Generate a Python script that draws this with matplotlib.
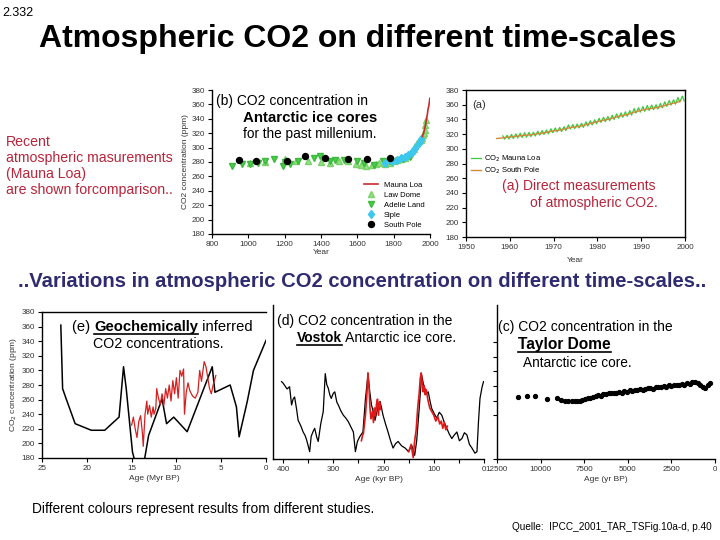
import numpy as np
import matplotlib
matplotlib.use('Agg')
import matplotlib.pyplot as plt
from matplotlib.lines import Line2D

plt.rcParams['font.family'] = ['Liberation Sans', 'DejaVu Sans']

# ===================== dados =====================
# (b) ice cores, last millennium
sp_year = [947, 1044, 1212, 1313, 1423, 1551, 1655, 1780]
sp_co2 = [283, 282, 281, 288, 285, 284, 284, 286]

adelie_year = [910, 965, 1011, 1051, 1093, 1144, 1190, 1203, 1227, 1276, 1359, 1395,
               1450, 1478, 1524, 1597, 1634, 1689, 1744, 1780, 1853, 1890]
adelie_co2 = [275, 277, 277, 278, 281, 284, 274, 280, 277, 282, 286, 289,
              281, 283, 283, 282, 279, 276, 282, 282, 284, 287]

law_year = [1008, 1090, 1200, 1260, 1330, 1400, 1450, 1500, 1550, 1590, 1620, 1650,
            1680, 1700, 1720, 1750, 1780, 1800, 1810, 1820, 1830, 1840, 1850, 1860,
            1870, 1880, 1890, 1900, 1910, 1920, 1930, 1940, 1950, 1955, 1960, 1965,
            1970, 1975, 1980]
law_co2 = [279, 280, 284, 281, 282, 280, 278, 282, 281, 277, 276, 275,
           276, 277, 278, 277, 279, 282, 283, 283, 284, 284, 285, 286,
           288, 290, 292, 295, 298, 302, 306, 309, 311, 313, 317, 320,
           324, 331, 338]

siple_year = [1750, 1790, 1820, 1840, 1860, 1880, 1900, 1920, 1940, 1953]
siple_co2 = [279, 281, 283, 285, 287, 290, 294, 300, 306, 312]

# (a) direct measurements
mlo_year = np.arange(1958, 2000)
mlo_may = [317.6, 318.5, 319.6, 320.4, 321.2, 322.0, 322.3, 322.6, 324.0, 324.8, 325.6, 327.3,
           328.3, 329.0, 330.1, 332.5, 333.0, 333.8, 334.8, 336.7, 338.2, 339.5, 341.5, 343.0,
           344.0, 345.8, 347.5, 348.9, 350.4, 352.0, 354.7, 355.9, 357.4, 359.0, 359.5, 360.0,
           361.8, 363.9, 365.7, 366.7, 369.9, 371.6]
mlo_oct = [313.0, 313.3, 313.9, 314.7, 315.4, 315.8, 316.6, 317.3, 318.6, 319.6, 320.3, 321.9,
           323.0, 323.5, 324.8, 327.0, 327.4, 328.3, 329.1, 330.9, 332.5, 334.0, 335.9, 336.9,
           338.2, 339.9, 341.4, 342.9, 344.2, 345.9, 348.5, 349.9, 351.0, 352.2, 353.2, 354.1,
           355.8, 357.7, 359.5, 360.7, 363.6, 365.2]
mlo_mean = [315.3, 316.0, 316.9, 317.6, 318.5, 319.0, 319.6, 320.0, 321.4, 322.2, 323.0, 324.6,
            325.7, 326.3, 327.5, 329.7, 330.2, 331.1, 332.0, 333.8, 335.4, 336.8, 338.7, 339.9,
            341.1, 342.8, 344.4, 345.9, 347.2, 348.9, 351.5, 352.9, 354.2, 355.6, 356.4, 357.1,
            358.8, 360.8, 362.6, 363.7, 366.7, 368.4]
spo_year = np.arange(1957, 2000)
spo_co2 = [314.0, 314.6, 315.4, 316.0, 316.8, 317.5, 318.1, 318.6, 319.2, 320.2, 321.0, 321.8,
           323.2, 324.3, 325.0, 326.2, 327.9, 328.9, 329.8, 330.7, 332.2, 333.9, 335.2, 337.0,
           338.4, 339.6, 341.1, 342.7, 344.3, 345.5, 346.9, 349.0, 350.9, 352.3, 353.6, 354.7,
           355.5, 356.6, 358.2, 360.0, 361.6, 362.8, 365.3]

# (e) geochemically inferred (Myr BP)
geo_age = [22.9, 22.7, 22.3, 21.3, 19.5, 18.0, 16.4, 15.9, 15.6, 14.9, 14.3, 13.6, 13.1,
           11.6, 11.1, 10.3, 8.8, 6.0, 5.7, 4.0, 3.3, 3.0, 2.1, 1.4, 0.0]
geo_co2 = [362, 275, 261, 227, 218, 218, 236, 305, 275, 188, 160, 175, 211,
           261, 227, 236, 216, 305, 270, 280, 250, 209, 257, 300, 341]
geo_red_age = [15.0, 14.8, 14.6, 14.4, 14.2, 14.0, 13.8, 13.7, 13.5, 13.3, 13.2, 13.0, 12.8,
               12.6, 12.5, 12.3, 12.2, 12.0, 11.8, 11.6, 11.4, 11.2, 11.0, 10.8, 10.6, 10.4,
               10.2, 10.0, 9.8, 9.6, 9.4, 9.2, 9.1, 8.9, 8.7, 8.5, 8.2, 7.9, 7.6, 7.4, 7.2,
               6.9, 6.7, 6.5, 6.3, 6.1, 5.9, 5.6]
geo_red_co2 = [225, 236, 220, 208, 230, 238, 215, 196, 240, 258, 240, 252, 236,
               250, 240, 248, 275, 262, 253, 268, 252, 275, 262, 280, 258, 286,
               268, 290, 262, 300, 292, 302, 240, 270, 283, 272, 265, 262, 270, 300, 285,
               312, 305, 290, 275, 268, 280, 293]

# (d) Vostok (kyr BP)
vostok_age = [403, 400, 397, 392, 387, 383, 380, 377, 373, 370, 365, 360, 356, 353, 350, 347,
              344, 340, 337, 333, 330, 325, 320, 316, 313, 310, 307, 304, 300, 297, 293, 290,
              285, 280, 275, 270, 265, 260, 256, 252, 247, 241, 236, 231, 227, 224, 220, 217,
              212, 207, 204, 201, 196, 191, 186, 181, 176, 171, 164, 157, 150, 144, 138, 134,
              130, 127, 124, 121, 118, 114, 111, 107, 104, 99, 94, 89, 84, 79, 74, 69, 64, 59,
              54, 49, 44, 39, 34, 29, 24, 18, 14, 11, 8, 4, 1]
vostok_co2 = [286, 284, 281, 276, 279, 254, 262, 265, 248, 233, 226, 217, 212, 206, 198, 190,
              211, 218, 222, 210, 204, 228, 245, 297, 282, 277, 268, 263, 270, 272, 258, 254,
              246, 240, 236, 231, 224, 217, 190, 204, 211, 217, 262, 295, 270, 254, 244, 233,
              248, 259, 250, 240, 228, 217, 205, 195, 201, 204, 198, 195, 190, 199, 185, 205,
              240, 268, 295, 284, 277, 270, 272, 258, 249, 242, 236, 244, 240, 230, 222, 214,
              208, 213, 217, 205, 208, 216, 213, 200, 195, 188, 190, 231, 263, 278, 286]
vostok_red_age = [244, 242, 240, 238, 236, 233, 231, 229, 227, 225, 222, 220, 218, 216, 214,
                  212, 210, 208, 206]
vostok_red_co2 = [205, 212, 215, 228, 240, 270, 298, 280, 250, 235, 245, 230, 250, 240, 255,
                  262, 240, 258, 248]
vostok_red2_age = [150, 145, 141, 138, 135, 132, 129, 127, 125, 123, 121, 119, 117, 115, 112,
                   108, 104, 100, 96, 92, 88, 85, 82, 79, 76, 73]
vostok_red2_co2 = [190, 200, 182, 205, 220, 250, 270, 290, 298, 285, 272, 280, 268, 275, 262,
                   250, 245, 240, 232, 238, 228, 232, 222, 230, 220, 225]

# (c) Taylor Dome (yr BP)
taylor_age = [11300, 10800, 10300, 9650, 9050, 8850, 8600, 8450, 8200, 8050, 7900, 7750, 7600,
              7450, 7300, 7150, 7000, 6850, 6700, 6550, 6400, 6250, 6100, 5950, 5800, 5650,
              5500, 5350, 5200, 5050, 4900, 4750, 4600, 4450, 4300, 4150, 4000, 3850, 3700,
              3550, 3400, 3250, 3100, 2950, 2800, 2650, 2500, 2350, 2200, 2050, 1900, 1750,
              1600, 1450, 1300, 1150, 1000, 850, 700, 550, 400, 300]
taylor_co2 = [265, 267, 267, 262, 263, 261, 260, 260, 259, 259, 260, 260, 261,
              262, 263, 264, 265, 266, 268, 267, 269, 269, 270, 270, 271, 271,
              272, 271, 273, 272, 274, 273, 275, 274, 276, 275, 276, 277, 277,
              276, 278, 279, 278, 280, 279, 281, 280, 282, 281, 282, 283, 282,
              284, 283, 285, 286, 284, 282, 279, 277, 281, 284]

# ===================== figura =====================
W, H = 720, 540
fig = plt.figure(figsize=(7.2, 5.4), dpi=100)
fig.patch.set_facecolor('white')


def px_axes(x0, y0, x1, y1):
    # caixa em pixels (origem em cima a esquerda)
    return fig.add_axes([x0 / W, 1 - y1 / H, (x1 - x0) / W, (y1 - y0) / H])


def style(ax, spines=('left', 'bottom')):
    for s in ['left', 'right', 'top', 'bottom']:
        ax.spines[s].set_visible(s in spines)
        ax.spines[s].set_linewidth(1.0)
    ax.tick_params(direction='out', length=3, width=0.8, labelsize=5.8,
                   labelcolor='#333333', pad=2)
    ax.tick_params(which='minor', direction='out', length=3, width=0.8)
    ax.patch.set_alpha(0)


tick_lab = '#333333'

# ---- (b) ----
ax_b = px_axes(212, 90, 430, 234)
style(ax_b)
ax_b.plot(law_year, law_co2, '^', color='#8fe47f', ms=4.5, mec='#7ad06a', label='Law Dome', zorder=3)
ax_b.plot(adelie_year, adelie_co2, 'v', color='#4ccc4c', ms=5, mec='#3cb83c', label='Adelie Land', zorder=3)
ax_b.plot(siple_year, siple_co2, 'd', color='#3cc8ee', ms=4.5, label='Siple', zorder=3)
ax_b.plot(sp_year, sp_co2, 'o', color='black', ms=4.3, label='South Pole', zorder=4)
ax_b.plot(mlo_year, mlo_mean, '-', color='#cc2a2a', lw=1.2, label='Mauna Loa', zorder=5)
ax_b.set_xlim(800, 2000)
ax_b.set_ylim(180, 380)
ax_b.set_xticks(range(800, 2001, 200))
ax_b.set_yticks(range(180, 381, 20))
ax_b.set_xlabel('Year', fontsize=6, color=tick_lab, labelpad=1)
ax_b.set_ylabel('CO2 concentration (ppm)', fontsize=6, color=tick_lab, labelpad=2)
hb, lb = ax_b.get_legend_handles_labels()
order = [4, 0, 1, 2, 3]
ax_b.legend([hb[i] for i in order], [lb[i] for i in order], loc='lower right',
            bbox_to_anchor=(1.0, 0.0), fontsize=5.5, frameon=False, handlelength=1.8,
            labelspacing=0.35, borderaxespad=0.3)

# ---- (a) ----
ax_a = px_axes(466, 90, 685, 237)
style(ax_a, spines=('left', 'bottom', 'top', 'right'))
ax_a.tick_params(top=False, right=False)
mlo_x = []
mlo_y = []
for yr, hi, lo in zip(mlo_year, mlo_may, mlo_oct):
    mlo_x += [yr + 0.4, yr + 0.8]
    mlo_y += [hi, lo]
ax_a.plot(mlo_x, mlo_y, '-', color='#3cc83c', lw=0.9, label='CO$_2$ Mauna Loa')
ax_a.plot(spo_year, spo_co2, '-', color='#d08a3a', lw=1.0, label='CO$_2$ South Pole')
ax_a.set_xlim(1950, 2000)
ax_a.set_ylim(180, 380)
ax_a.set_xticks(range(1950, 2001, 10))
ax_a.set_yticks(range(180, 381, 20))
ax_a.set_xlabel('Year', fontsize=6, color=tick_lab, labelpad=4)
ax_a.text(0.03, 0.93, '(a)', transform=ax_a.transAxes, fontsize=8, va='top', color='#333333')
ax_a.legend(loc='upper left', bbox_to_anchor=(0.0, 0.60), fontsize=5.5, frameon=False,
            handlelength=1.3, labelspacing=0.2, borderaxespad=0.2, handletextpad=0.4)

# ---- (e) ----
ax_e = px_axes(42, 312, 266, 458)
style(ax_e, spines=('left', 'bottom', 'top'))
ax_e.tick_params(top=False)
ax_e.plot(geo_age, geo_co2, '-', color='black', lw=1.1)
ax_e.plot(geo_red_age, geo_red_co2, '-', color='#d42020', lw=0.9)
ax_e.set_xlim(25, 0)
ax_e.set_ylim(180, 380)
ax_e.set_xticks(range(0, 26, 5))
ax_e.set_yticks(range(180, 381, 20))
ax_e.set_xlabel('Age (Myr BP)', fontsize=6, color=tick_lab, labelpad=2)
ax_e.set_ylabel('CO$_2$ concentration (ppm)', fontsize=6, color=tick_lab, labelpad=2)

# ---- (d) ----
ax_d = px_axes(273, 305, 484, 459)
style(ax_d)
ax_d.tick_params(left=False, labelleft=False)
ax_d.plot(vostok_age, vostok_co2, '-', color='black', lw=0.9)
ax_d.plot(vostok_red_age, vostok_red_co2, '-', color='#e01818', lw=1.2)
ax_d.plot(vostok_red2_age, vostok_red2_co2, '-', color='#e01818', lw=1.2)
ax_d.set_xlim(420, 0)
ax_d.set_ylim(180, 391)
ax_d.set_xticks(range(0, 401, 100))
ax_d.set_xticks(range(50, 400, 100), minor=True)
ax_d.set_xlabel('Age (kyr BP)', fontsize=6, color=tick_lab, labelpad=2)

# ---- (c) ----
ax_c = px_axes(497, 305, 715, 459)
style(ax_c)
ax_c.tick_params(labelleft=False)
ax_c.plot(taylor_age, taylor_co2, 'o', color='black', ms=2.8)
ax_c.set_xlim(12500, 0)
ax_c.set_ylim(180, 391)
ax_c.set_xticks(range(0, 12501, 2500))
ax_c.set_xticklabels(['0', '2500', '5000', '7500', '10000', '12500'])
ax_c.set_yticks([180, 240, 260, 280, 300, 320, 340])
ax_c.set_xlabel('Age (yr BP)', fontsize=6, color=tick_lab, labelpad=2)

# ===================== textos =====================
renderer = fig.canvas.get_renderer()


def txt(x, y, s, size, color='black', weight='normal', ha='left'):
    return fig.text(x / W, 1 - y / H, s, fontsize=size, color=color,
                    fontweight=weight, ha=ha, va='baseline')


def rich(x, y, parts, size, color='black'):
    # parts: (texto, negrito, sublinhado)
    cur = x
    for s, bold, ul in parts:
        t = txt(cur, y, s, size, color=color, weight='bold' if bold else 'normal')
        bb = t.get_window_extent(renderer)
        if ul:
            fig.add_artist(Line2D([bb.x0 / W, bb.x1 / W], [(H - y - 2.5) / H] * 2,
                                  transform=fig.transFigure, color=color, lw=1.2))
        cur = bb.x1


txt(2, 16, '2.332', 9)
txt(358, 47, 'Atmospheric CO2 on different time-scales', 23, weight='bold', ha='center')

red = '#b8243a'
for i, line in enumerate(['Recent', 'atmospheric masurements', '(Mauna Loa)',
                          'are shown forcomparison..']):
    txt(6, 146 + 16 * i, line, 10.2, color=red)

txt(216, 105, '(b) CO2 concentration in', 10)
txt(243, 122, 'Antarctic ice cores', 10.8, weight='bold')
txt(243, 138, 'for the past millenium.', 9.8)

txt(502, 190, '(a) Direct measurements', 10, color=red)
txt(530, 207, 'of atmospheric CO2.', 10, color=red)

txt(18, 287, '..Variations in atmospheric CO2 concentration on different time-scales..', 14.6,
    color='#2e2b70', weight='bold')

rich(72, 331, [('(e) ', False, False), ('Geochemically', True, True),
               (' inferred', False, False)], 10.6)
txt(93, 348, 'CO2 concentrations.', 10.3)

txt(277, 325, '(d) CO2 concentration in the', 10)
rich(297, 342, [('Vostok', True, True), (' Antarctic ice core.', False, False)], 10)

txt(498, 331, '(c) CO2 concentration in the', 10)
rich(518, 349, [('Taylor Dome', True, True)], 11.2)
txt(520, 367, ' Antarctic ice core.', 9.8)

txt(32, 513, 'Different colours represent results from different studies.', 9.9)
txt(512, 530, 'Quelle:  IPCC_2001_TAR_TSFig.10a-d, p.40', 7.2)

fig.savefig('out.png', dpi=100)
